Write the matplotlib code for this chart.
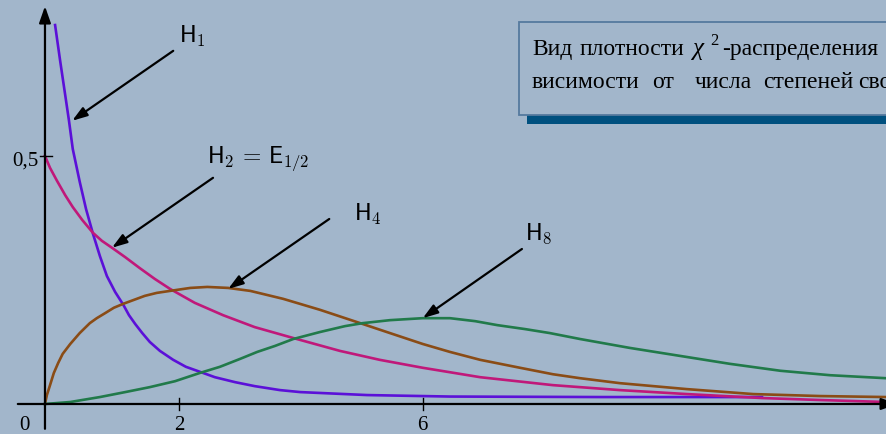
import matplotlib
matplotlib.use('Agg')
import matplotlib.pyplot as plt
from matplotlib.patches import Rectangle

plt.rcParams['mathtext.fontset'] = 'cm'

# ---------------- data ----------------
h1_x = [0.16, 0.24, 0.32, 0.38, 0.44, 0.55, 0.65, 0.76, 0.87, 0.98, 1.11, 1.24, 1.33,
        1.43, 1.54, 1.66, 1.82, 2.03, 2.23, 2.45, 2.69, 3.01, 3.32, 3.72, 4.04, 5.10,
        6.41, 8.79, 11.35]
h1_y = [0.764, 0.692, 0.623, 0.571, 0.514, 0.448, 0.393, 0.343, 0.298, 0.258, 0.226,
        0.200, 0.179, 0.161, 0.143, 0.125, 0.107, 0.089, 0.075, 0.065, 0.054, 0.044,
        0.036, 0.028, 0.024, 0.018, 0.015, 0.014, 0.014]

h2_x = [0.0, 0.08, 0.19, 0.32, 0.44, 0.59, 0.76, 0.90, 1.06, 1.27, 1.50, 1.74, 1.98,
        2.37, 2.82, 3.32, 3.93, 4.67, 5.30, 5.98, 6.89, 8.04, 9.10, 10.16, 11.35, 12.27, 13.31]
h2_y = [0.500, 0.476, 0.450, 0.421, 0.397, 0.371, 0.345, 0.329, 0.315, 0.296, 0.274,
        0.252, 0.232, 0.204, 0.179, 0.155, 0.133, 0.107, 0.089, 0.073, 0.054, 0.038,
        0.028, 0.020, 0.012, 0.008, 0.004]

h4_x = [0.0, 0.03, 0.08, 0.14, 0.21, 0.28, 0.40, 0.55, 0.71, 0.82, 0.95, 1.09, 1.24,
        1.41, 1.58, 1.77, 1.98, 2.30, 2.57, 2.90, 3.25, 3.77, 4.35, 4.99, 5.46, 5.98,
        6.41, 6.89, 7.52, 8.04, 8.47, 9.10, 10.16, 11.21, 12.27, 13.31]
h4_y = [0.0, 0.018, 0.038, 0.0625, 0.083, 0.101, 0.121, 0.143, 0.163, 0.173, 0.183,
        0.194, 0.202, 0.210, 0.218, 0.224, 0.228, 0.234, 0.236, 0.234, 0.228, 0.212,
        0.190, 0.163, 0.143, 0.121, 0.105, 0.089, 0.073, 0.060, 0.052, 0.042, 0.030,
        0.020, 0.016, 0.014]

h8_x = [0.0, 0.40, 0.87, 1.27, 1.66, 2.06, 2.45, 2.77, 3.09, 3.36, 3.64, 3.93, 4.35,
        4.75, 5.03, 5.46, 5.98, 6.41, 6.81, 7.16, 7.60, 7.99, 8.47, 9.26, 10.05, 10.84,
        11.64, 12.43, 13.31]
h8_y = [0.0, 0.004, 0.014, 0.024, 0.034, 0.046, 0.0625, 0.075, 0.091, 0.105, 0.117,
        0.131, 0.145, 0.157, 0.163, 0.169, 0.173, 0.173, 0.167, 0.159, 0.151, 0.143,
        0.131, 0.113, 0.097, 0.081, 0.067, 0.058, 0.052]

curve_labels = [r'$\mathsf{H}_\mathsf{1}$',
                r'$\mathsf{H}_\mathsf{2}\,=\,\mathsf{E}_{\mathsf{1/2}}$',
                r'$\mathsf{H}_\mathsf{4}$',
                r'$\mathsf{H}_\mathsf{8}$']
# arrow tip points on the curves (data) and arrow tails
arrow_tips = [(0.43, 0.571), (1.06, 0.315), (2.90, 0.232), (5.98, 0.173)]
arrow_tails = [(2.03, 0.712), (2.66, 0.456), (4.50, 0.373), (7.55, 0.3125)]
label_pos = [(2.12, 0.730), (2.57, 0.488), (4.89, 0.371), (7.60, 0.333)]

x_tick_pos = [2.12, 5.98]
x_tick_labels = ["2", "6"]
y_tick_pos = [0.5]
y_tick_labels = ["0,5"]

title_line1 = ["Вид", "плотности", "χ", "2", "-распределения"]
title_line2 = ["висимости", "от", "числа", "степеней", "свободы"]

# ---------------- styling ----------------
W, H = 886, 435
bg = '#A2B6CB'
colors = ['#5B10D8', '#C0187A', '#8A4C16', '#217A4A']
serif = ['Liberation Serif', 'DejaVu Serif']

fig = plt.figure(figsize=(W / 100, H / 100), dpi=100)
fig.patch.set_facecolor(bg)
ax = fig.add_axes([0, 0, 1, 1])
ax.set_facecolor(bg)
ax.set_xlim(-0.712, 13.313)
ax.set_ylim(-0.0605, 0.8165)
ax.axis('off')

def fpx(px, py):
    return px / W, 1 - py / H

# axes with arrows
ax.annotate('', xy=(13.50, 0), xytext=(-0.43, 0), annotation_clip=False,
            arrowprops=dict(arrowstyle='-|>,head_length=1.0,head_width=0.35',
                            lw=1.6, color='black', shrinkA=0, shrinkB=0), zorder=3)
ax.annotate('', xy=(0, 0.802), xytext=(0, -0.05), annotation_clip=False,
            arrowprops=dict(arrowstyle='-|>,head_length=1.0,head_width=0.35',
                            lw=1.6, color='black', shrinkA=0, shrinkB=0), zorder=3)

for xt, lab in zip(x_tick_pos, x_tick_labels):
    ax.plot([xt, xt], [-0.012, 0.012], color='black', lw=1.0, zorder=3)
    ax.text(xt, -0.042, lab, ha='center', va='center', fontsize=15, family=serif)
ax.text(-0.33, -0.042, "0", ha='center', va='center', fontsize=15, family=serif)
for yt, lab in zip(y_tick_pos, y_tick_labels):
    ax.plot([-0.08, 0.11], [yt, yt], color='black', lw=1.0, zorder=3)
    ax.text(-0.11, yt - 0.008, lab, ha='right', va='center', fontsize=15, family=serif)

# curves
for xs, ys, c in zip([h1_x, h2_x, h4_x, h8_x], [h1_y, h2_y, h4_y, h8_y], colors):
    ax.plot(xs, ys, color=c, lw=1.9, zorder=2, solid_joinstyle='round')

# arrows + labels
for tip, tail, lab, lp in zip(arrow_tips, arrow_tails, curve_labels, label_pos):
    ax.annotate('', xy=tip, xytext=tail,
                arrowprops=dict(arrowstyle='-|>,head_length=0.9,head_width=0.3',
                                lw=1.6, color='black', shrinkA=0, shrinkB=0), zorder=4)
    ax.text(lp[0], lp[1], lab, ha='left', va='baseline', fontsize=17)

# title box with shadow
fig.add_artist(Rectangle(fpx(527, 125), 0.5, 93 / H, transform=fig.transFigure,
                         facecolor='#00507F', edgecolor='none', zorder=5))
fig.add_artist(Rectangle(fpx(519, 116), 0.5, 93 / H, transform=fig.transFigure,
                         facecolor=bg, edgecolor='#557A9E', lw=1.3, zorder=6))

line1_x = [532, 580, 693, 710, 722]
for word, px in zip(title_line1, line1_x):
    if word == "χ":
        fig.text(*fpx(px, 55), word, fontsize=18, family=serif, style='italic',
                 va='baseline', ha='left', zorder=7)
    elif word == "2":
        fig.text(*fpx(px, 45), word, fontsize=12, family=serif,
                 va='baseline', ha='left', zorder=7)
    else:
        fig.text(*fpx(px, 55), word, fontsize=17, family=serif,
                 va='baseline', ha='left', zorder=7)

line2_x = [532, 652, 695, 763, 858]
for word, px in zip(title_line2, line2_x):
    fig.text(*fpx(px, 88), word, fontsize=17, family=serif,
             va='baseline', ha='left', zorder=7)

fig.savefig('out.png', dpi=100, facecolor=bg)
